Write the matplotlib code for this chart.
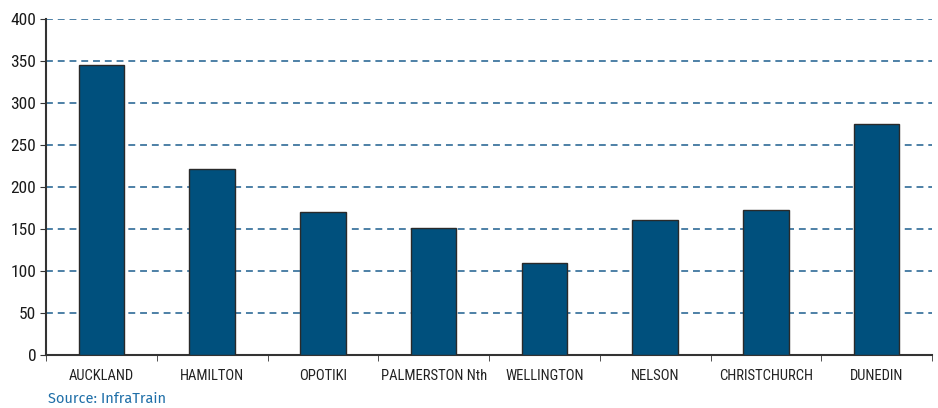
import numpy as np
import matplotlib.pyplot as plt

# Data
cities = ['AUCKLAND', 'HAMILTON', 'OPOTIKI', 'PALMERSTON Nth', 'WELLINGTON',
          'NELSON', 'CHRISTCHURCH', 'DUNEDIN']
values = [345, 221, 170, 151, 110, 161, 173, 275]
yticks = [0, 50, 100, 150, 200, 250, 300, 350, 400]

plt.rcParams['font.family'] = ['Roboto Condensed', 'DejaVu Sans']

fig = plt.figure(figsize=(9.38, 4.08), dpi=100)
ax = fig.add_axes([46 / 938, 53 / 408, 886 / 938, 336 / 408])

x = np.arange(len(cities))
ax.bar(x, values, width=0.41, color='#00507d', edgecolor='#2a2a2a', linewidth=1.0, zorder=3)

ax.set_xlim(-0.5, len(cities) - 0.5)
ax.set_ylim(0, 400)
ax.set_yticks(yticks)
ax.set_yticklabels([str(v) for v in yticks], fontsize=12.5, color='#1a1a1a')
ax.set_xticks(x)
ax.set_xticklabels(cities, fontsize=10.5, color='#222222')
ax.tick_params(axis='x', length=0, pad=10)
ax.set_xticks(np.arange(-0.5, len(cities)), minor=True)
ax.tick_params(axis='x', which='minor', length=4, direction='out', color='#333333')
ax.tick_params(axis='y', length=4, direction='out', color='#333333', pad=3)

# dashed blue gridlines
ax.grid(axis='y', linestyle=(0, (4.5, 3.2)), color='#1d5e8e', linewidth=1.1, zorder=1)
for s in ['top', 'right']:
    ax.spines[s].set_visible(False)
for s in ['left', 'bottom']:
    ax.spines[s].set_color('#333333')
    ax.spines[s].set_linewidth(1.5)

fig.text(48 / 938, 1 - 399 / 408, 'Source: InfraTrain', fontsize=10.5, color='#1f6fa8',
         va='center', ha='left', family=['Fira Sans', 'Open Sans', 'DejaVu Sans'])

plt.savefig('out.png', dpi=100)
